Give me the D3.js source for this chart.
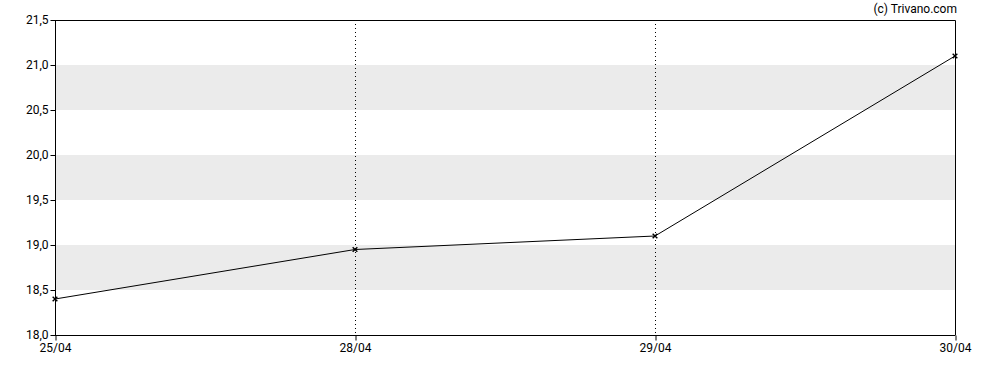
<!DOCTYPE html>
<html>
<head>
<meta charset="utf-8">
<script src="https://cdn.jsdelivr.net/npm/d3@7"></script>
<style>
  body { margin: 0; background: #fff; }
  svg { display: block; font-family: Roboto, sans-serif; }
  .axis text { font-size: 12px; fill: #000; font-family: Roboto, sans-serif; }
</style>
</head>
<body>
<script>
var dates = ["25/04", "28/04", "29/04", "30/04"];
var prices = [18.4, 18.95, 19.1, 21.1];
var yTicks = [18.0, 18.5, 19.0, 19.5, 20.0, 20.5, 21.0, 21.5];
var bands = [[18.5, 19.0], [19.5, 20.0], [20.5, 21.0]];

var width = 988, height = 370;
var margin = {top: 20, right: 33, bottom: 35, left: 55};

var svg = d3.select("body").append("svg")
    .attr("width", width)
    .attr("height", height);

var x = d3.scalePoint()
    .domain(dates)
    .range([margin.left, width - margin.right]);

var y = d3.scaleLinear()
    .domain([18.0, 21.5])
    .range([height - margin.bottom, margin.top]);

var fmt = function(d) { return d3.format(".1f")(d).replace(".", ","); };

// grey bands
svg.append("g").selectAll("rect")
    .data(bands)
    .enter().append("rect")
      .attr("x", margin.left)
      .attr("width", width - margin.right - margin.left)
      .attr("y", function(d) { return y(d[1]); })
      .attr("height", function(d) { return y(d[0]) - y(d[1]); })
      .attr("fill", "#ebebeb");

// dotted verticals
svg.append("g").selectAll("line")
    .data(dates.slice(1, -1))
    .enter().append("line")
      .attr("x1", function(d) { return x(d) + 0.5; })
      .attr("x2", function(d) { return x(d) + 0.5; })
      .attr("y1", margin.top)
      .attr("y2", height - margin.bottom)
      .attr("stroke", "#000")
      .attr("stroke-dasharray", "1,3");

// frame top + right
svg.append("path")
    .attr("d", "M" + (margin.left) + "," + (margin.top + 0.5) +
               "H" + (width - margin.right + 0.5) +
               "V" + (height - margin.bottom))
    .attr("fill", "none")
    .attr("stroke", "#000");

var yAxis = svg.append("g")
    .attr("class", "axis")
    .attr("transform", "translate(" + (margin.left + 0.5) + ",0)")
    .call(d3.axisLeft(y).tickValues(yTicks).tickFormat(fmt).tickSize(5).tickPadding(2));
yAxis.select(".domain").attr("d", "M-0," + margin.top + "V" + (height - margin.bottom + 0.5));

var xAxis = svg.append("g")
    .attr("class", "axis")
    .attr("transform", "translate(0," + (height - margin.bottom + 0.5) + ")")
    .call(d3.axisBottom(x).tickSize(5).tickPadding(3));
xAxis.select(".domain").attr("d", "M" + margin.left + ",0H" + (width - margin.right + 0.5));
xAxis.selectAll(".tick line").attr("transform", "translate(0.5,0)");

var pts = dates.map(function(d, i) { return {date: d, v: prices[i]}; });

svg.append("path")
    .datum(pts)
    .attr("fill", "none")
    .attr("stroke", "#000")
    .attr("stroke-width", 1)
    .attr("d", d3.line()
        .x(function(d) { return x(d.date); })
        .y(function(d) { return y(d.v); }));

svg.append("g").selectAll("path")
    .data(pts)
    .enter().append("path")
      .attr("d", d3.symbol().type(d3.symbolX).size(16))
      .attr("transform", function(d) { return "translate(" + x(d.date) + "," + y(d.v) + ")"; })
      .attr("stroke", "#000")
      .attr("stroke-width", 1.4);

svg.append("text")
    .attr("x", width - margin.right + 2)
    .attr("y", 13)
    .attr("text-anchor", "end")
    .attr("font-size", "12px")
    .text("(c) Trivano.com");
</script>
</body>
</html>
